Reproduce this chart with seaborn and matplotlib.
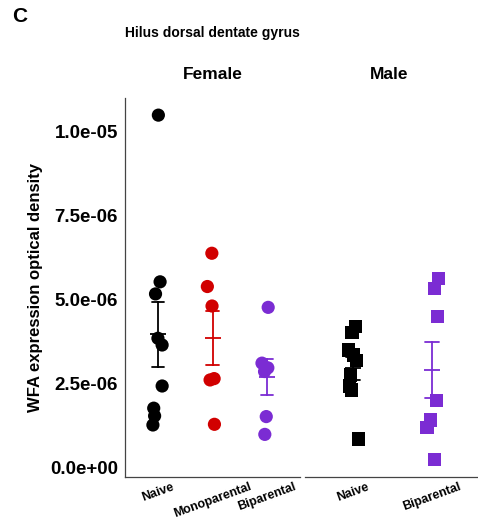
import numpy as np
import pandas as pd
import matplotlib
matplotlib.use("Agg")
import matplotlib.pyplot as plt
from matplotlib.ticker import FuncFormatter
import seaborn as sns

sns.set_style("white")
plt.rcParams['font.family'] = ['Liberation Sans', 'DejaVu Sans']
plt.rcParams['text.color'] = 'black'
plt.rcParams['axes.labelcolor'] = 'black'
plt.rcParams['xtick.color'] = 'black'
plt.rcParams['ytick.color'] = 'black'

# ---- data ----
female_naive = [1.05e-5, 5.54e-6, 5.18e-6, 3.86e-6, 3.66e-6, 2.44e-6, 1.78e-6, 1.55e-6, 1.28e-6]
female_mono = [6.39e-6, 5.40e-6, 4.82e-6, 2.66e-6, 2.62e-6, 1.30e-6]
female_bi = [4.78e-6, 3.12e-6, 2.98e-6, 2.87e-6, 1.53e-6, 1.00e-6]
male_naive = [4.22e-6, 4.04e-6, 3.51e-6, 3.36e-6, 3.21e-6, 2.77e-6, 2.44e-6, 2.32e-6, 0.86e-6]
male_bi = [5.65e-6, 5.35e-6, 4.50e-6, 2.02e-6, 1.43e-6, 1.20e-6, 0.26e-6]

female_groups = ["Naive", "Monoparental", "Biparental"]
male_groups = ["Naive", "Biparental"]
palette = {"Naive": "#000000", "Monoparental": "#D10000", "Biparental": "#7B2CD3"}
y_ticks = [0.0, 2.5e-6, 5.0e-6, 7.5e-6, 1.0e-5]

def frame(groups, values):
    rows = []
    for g, vals in zip(groups, values):
        for v in vals:
            rows.append({"group": g, "value": v})
    return pd.DataFrame(rows)

df_f = frame(female_groups, [female_naive, female_mono, female_bi])
df_m = frame(male_groups, [male_naive, male_bi])

fig = plt.figure(figsize=(4.78, 5.22), dpi=100)
ax_f = fig.add_axes([125/478, 45/522, 175/478, 379/522])
ax_m = fig.add_axes([305/478, 45/522, 175/478, 379/522], sharey=ax_f)

np.random.seed(3)
for ax, df, groups, marker, cap, jit in [(ax_f, df_f, female_groups, "o", 0.22, 0.1),
                                          (ax_m, df_m, male_groups, "s", 0.18, 0.08)]:
    sns.stripplot(data=df, x="group", y="value", hue="group", order=groups,
                  hue_order=groups, palette=palette, marker=marker, size=9.5,
                  jitter=jit, linewidth=0, legend=False, ax=ax, zorder=2)
    sns.pointplot(data=df, x="group", y="value", hue="group", order=groups,
                  hue_order=groups, palette=palette, errorbar="se", capsize=cap,
                  marker="_", markersize=11, markeredgewidth=1.3, linestyle="none",
                  err_kws={"linewidth": 1.3}, legend=False, ax=ax)
    ax.set_xlim(-0.6, len(groups) - 0.4)
    ax.set_xlabel("")
    ax.tick_params(axis="x", length=3, width=0.8, color="#555555", pad=0)
    for lab in ax.get_xticklabels():
        lab.set_rotation(20)
        lab.set_ha("center")
        lab.set_fontsize(9)
        lab.set_fontweight("bold")
        lab.set_color("black")
    for side in ["top", "right"]:
        ax.spines[side].set_visible(False)
    ax.spines["bottom"].set_color("#444444")
    ax.spines["bottom"].set_linewidth(0.9)
    ax.patch.set_alpha(0)

ax_f.set_ylim(-2.68e-7, 1.101e-5)
ax_f.set_yticks(y_ticks)
ax_f.yaxis.set_major_formatter(FuncFormatter(lambda v, p: f"{v:.1e}"))
ax_f.tick_params(axis="y", length=3, width=0.8, color="#555555", pad=2, labelsize=13.5)
for lab in ax_f.get_yticklabels():
    lab.set_fontweight("bold")
    lab.set_color("black")
ax_f.spines["left"].set_color("#444444")
ax_f.spines["left"].set_linewidth(0.9)
ax_f.set_ylabel("WFA expression optical density", fontsize=12, fontweight="bold",
                labelpad=5, color="black")

ax_m.spines["left"].set_visible(False)
ax_m.tick_params(axis="y", left=False, labelleft=False)
ax_m.set_ylabel("")

ax_f.set_title("Female", fontsize=12.5, fontweight="bold", pad=14, color="black")
ax_m.set_title("Male", fontsize=12.5, fontweight="bold", pad=14, color="black")
ax_m.title.set_position((0.5 - 3/175, 1.0))

fig.text(125/478, 1 - 33/522, "Hilus dorsal dentate gyrus", fontsize=10, fontweight="bold",
         ha="left", va="center", color="black")
fig.text(12/478, 1 - 17/522, "C", fontsize=15, fontweight="bold", ha="left", va="center",
         color="black")

fig.savefig("out.png", dpi=100)
